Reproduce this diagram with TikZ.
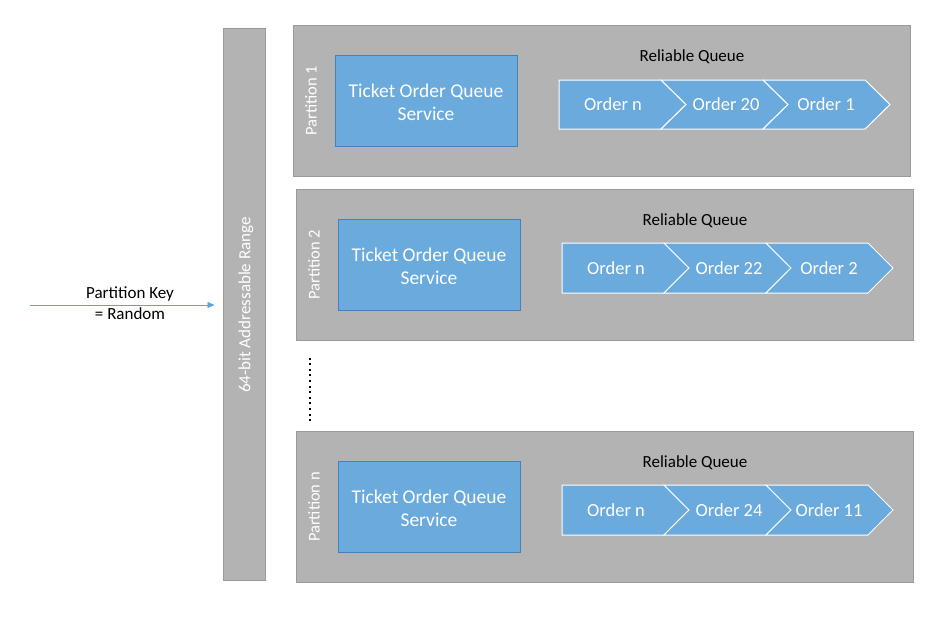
\documentclass[tikz,border=0pt]{standalone}
\usepackage{fontspec}
\setmainfont{Carlito}
\usetikzlibrary{arrows.meta}
\definecolor{grayfill}{HTML}{B3B3B3}
\definecolor{grayline}{HTML}{9A9A9A}
\definecolor{bluefill}{HTML}{6AAADD}
\definecolor{blueline}{HTML}{4A80B8}
\definecolor{arrowblue}{HTML}{5BA3DC}
\tikzset{
  part/.style={draw=grayline, fill=grayfill, line width=1pt},
  svc/.style={draw=blueline, fill=bluefill, line width=1pt, text=white, align=center, font=\fontsize{19.5}{23}\selectfont},
  svctxt/.style={text=white, align=center, font=\fontsize{19.5}{23}\selectfont},
  chev/.style={draw=white, fill=bluefill, line width=1pt},
  ordtxt/.style={text=white, font=\fontsize{18.5}{22}\selectfont},
  qlabel/.style={text=black, font=\fontsize{17}{20}\selectfont},
  plabel/.style={text=white, rotate=90, font=\fontsize{16.5}{20}\selectfont},
}
\newcommand{\queuerow}[6]{% #1 x0, #2 ytop, #3 ybot, #4 name prefix, #5 label2, #6 label3
  \pgfmathsetmacro{\ym}{(#2+#3)/2}
  \pgfmathsetmacro{\xb}{#1+102}
  \pgfmathsetmacro{\xc}{#1+204}
  \pgfmathsetmacro{\xd}{#1+306}
  \filldraw[chev] (#1,#2) -- (\xb,#2) -- (\xb+25,\ym) -- (\xb,#3) -- (#1,#3) -- cycle;
  \filldraw[chev] (\xb,#2) -- (\xc,#2) -- (\xc+25,\ym) -- (\xc,#3) -- (\xb,#3) -- (\xb+25,\ym) -- cycle;
  \filldraw[chev] (\xc,#2) -- (\xd,#2) -- (\xd+25,\ym) -- (\xd,#3) -- (\xc,#3) -- (\xc+25,\ym) -- cycle;
  \node[ordtxt] (#4o1) at (#1+54,\ym) {Order n};
  \node[ordtxt] (#4o2) at (\xb+65,\ym) {#5};
  \node[ordtxt] (#4o3) at (\xc+63,\ym) {#6};
}
\begin{document}
\begin{tikzpicture}[x=1pt,y=-1pt]
\useasboundingbox (0,0) rectangle (936,616);

% addressable range bar
\node[part, minimum width=42pt, minimum height=552pt, inner sep=0pt] (bar) at (244,304) {};
\node[plabel, font=\fontsize{17}{20}\selectfont] (barlbl) at (246,305) {64-bit Addressable Range};

% arrow
\coordinate (start) at (30,305);
\draw[arrowblue, line width=0.8pt, -{Triangle[length=7pt,width=6pt]}, shorten >=8pt] (start) -- (bar.west |- start);
\node[font=\fontsize{17}{20}\selectfont, anchor=south] (pk1) at (130,305) {Partition Key};
\node[font=\fontsize{17}{20}\selectfont, anchor=north] (pk2) at (130,304) {= Random};

% Partition 1
\node[part, minimum width=617pt, minimum height=151pt, inner sep=0pt] (p1) at (601.5,100.5) {};
\node[plabel] (p1l) at (311,101) {Partition 1};
\node[svc, minimum width=182pt, minimum height=91pt] (s1) at (426,100.5) {};
\node[svctxt] (s1t) at (426,102) {Ticket Order Queue\\Service};
\node[qlabel] (q1) at (692,57) {Reliable Queue};
\queuerow{559}{80}{129}{a}{Order 20}{Order 1}

% Partition 2
\node[part, minimum width=617pt, minimum height=151pt, inner sep=0pt] (p2) at (604.5,264.5) {};
\node[plabel] (p2l) at (314,265) {Partition 2};
\node[svc, minimum width=182pt, minimum height=91pt] (s2) at (429,264.5) {};
\node[svctxt] (s2t) at (429,266) {Ticket Order Queue\\Service};
\node[qlabel] (q2) at (695,221) {Reliable Queue};
\queuerow{562}{243}{293}{b}{Order 22}{Order 2}

% Partition n
\node[part, minimum width=617pt, minimum height=151pt, inner sep=0pt] (pn) at (604.5,506.5) {};
\node[plabel] (pnl) at (314,507) {Partition n};
\node[svc, minimum width=182pt, minimum height=91pt] (sn) at (429,506.5) {};
\node[svctxt] (snt) at (429,508) {Ticket Order Queue\\Service};
\node[qlabel] (qn) at (695,463) {Reliable Queue};
\queuerow{562}{485}{535}{c}{Order 24}{Order 11}

% dots
\foreach \i in {0,...,11} {
  \fill[black] (309.2,357.5+\i*5.6) rectangle (311.2,359.5+\i*5.6);
}
\end{tikzpicture}
\end{document}
